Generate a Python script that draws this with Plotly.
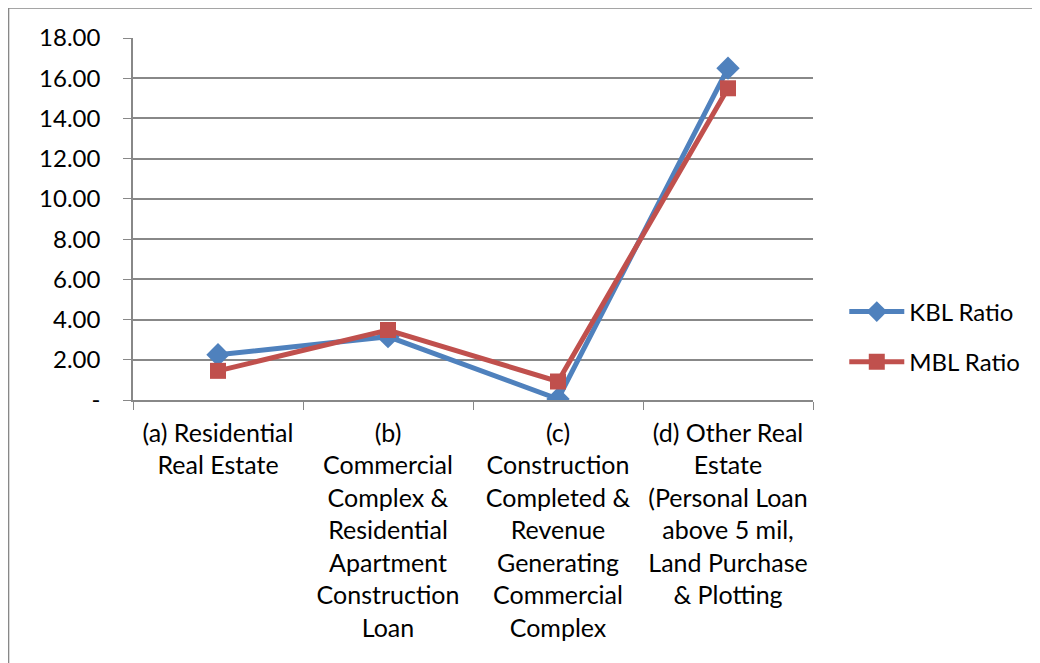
import plotly.graph_objects as go

categories = [
    "(a) Residential<br>Real Estate",
    "(b)<br>Commercial<br>Complex &<br>Residential<br>Apartment<br>Construction<br>Loan",
    "(c)<br>Construction<br>Completed &<br>Revenue<br>Generating<br>Commercial<br>Complex",
    "(d) Other Real<br>Estate<br>(Personal Loan<br>above 5 mil,<br>Land Purchase<br>& Plotting",
]
kbl_ratio = [2.25, 3.15, 0.05, 16.5]
mbl_ratio = [1.45, 3.48, 0.92, 15.5]
y_tickvals = [0, 2, 4, 6, 8, 10, 12, 14, 16, 18]
y_ticktext = ["-", "2.00", "4.00", "6.00", "8.00", "10.00", "12.00", "14.00", "16.00", "18.00"]

FONT = "Lato"
FS = 24
fig = go.Figure()
fig.add_trace(go.Scatter(
    x=categories, y=kbl_ratio, name="KBL Ratio", mode="lines+markers",
    legendgroup="kbl",
    line=dict(color="#4F81BD", width=5),
    marker=dict(symbol="diamond", size=18, color="#4F81BD"),
))
fig.add_trace(go.Scatter(
    x=categories, y=mbl_ratio, name="MBL Ratio", mode="lines+markers",
    legendgroup="mbl",
    line=dict(color="#C0504D", width=5),
    marker=dict(symbol="square", size=16, color="#C0504D"),
))

fig.update_layout(
    width=1040, height=663,
    margin=dict(l=125, r=235, t=30, b=271),
    paper_bgcolor="white", plot_bgcolor="white",
    font=dict(family=FONT, size=FS, color="black"),
    showlegend=True,
    legend=dict(x=1.046, y=0.174, xanchor="left", yanchor="middle",
                font=dict(size=FS), itemwidth=55, tracegroupgap=16,
                traceorder="grouped",
                bgcolor="rgba(0,0,0,0)"),
    xaxis=dict(
        type="category", range=[-0.5, 3.5], tickson="boundaries",
        ticks="outside", ticklen=8, tickcolor="#888888",
        showgrid=False, showline=True, linecolor="#888888", linewidth=1.5,
        tickfont=dict(size=25, family=FONT), zeroline=False,
        ticklabelstandoff=10,
    ),
    yaxis=dict(
        range=[0, 18], tickvals=y_tickvals, ticktext=y_ticktext,
        ticks="outside", ticklen=8, tickcolor="#888888",
        showgrid=True, gridcolor="#888888", gridwidth=1.5,
        showline=True, linecolor="#888888", linewidth=1.5,
        zeroline=False, tickfont=dict(size=FS, family=FONT), ticklabelstandoff=18,
    ),
    shapes=[dict(type="rect", xref="paper", yref="paper",
                 x0=-0.183, x1=1.4, y0=-0.8, y1=1.083,
                 line=dict(color="#888888", width=1.5), fillcolor="rgba(0,0,0,0)", layer="below")],
)

fig.write_html("out.html")
